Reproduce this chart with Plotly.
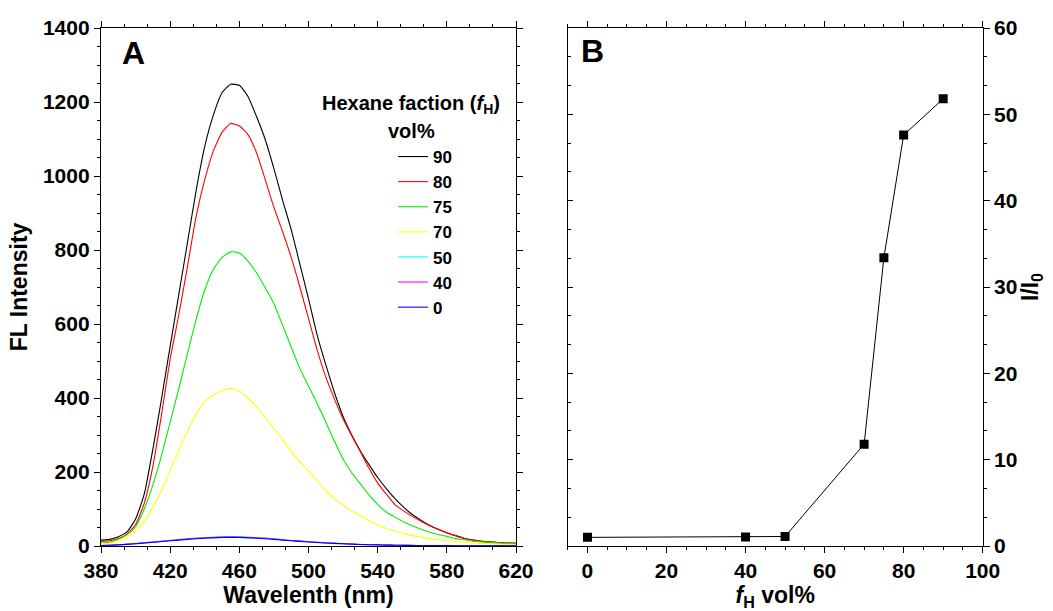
import plotly.graph_objects as go

# ---------------- data ----------------
wavelength = [380, 385, 390, 395, 400, 405, 410, 415, 420, 425, 430, 435, 440, 445,
              450, 455, 460, 465, 470, 475, 480, 485, 490, 495, 500, 505, 510, 515,
              520, 525, 530, 535, 540, 545, 550, 555, 560, 565, 570, 575, 580, 585,
              590, 595, 600, 605, 610, 615, 620]

fl_90 = [16, 18, 25, 38, 73, 140, 262, 398, 540, 680, 820, 960, 1080, 1165,
         1225, 1248, 1245, 1215, 1160, 1098, 1020, 935, 855, 762, 668, 570, 490, 415,
         350, 300, 257, 220, 185, 155, 128, 105, 85, 70, 56, 45, 36, 28,
         21, 16, 13, 11, 9, 8, 7]
fl_80 = [12, 14, 20, 32, 58, 115, 215, 355, 505, 625, 755, 890, 990, 1068,
         1118, 1142, 1135, 1112, 1062, 990, 915, 850, 780, 700, 615, 530, 457, 397,
         343, 298, 255, 210, 170, 140, 112, 95, 80, 67, 55, 45, 36, 28,
         20, 16, 13, 11, 9, 8, 7]
fl_75 = [8, 10, 18, 30, 52, 100, 165, 245, 335, 425, 520, 612, 692, 748,
         780, 795, 792, 770, 738, 698, 655, 597, 538, 480, 432, 385, 335, 283,
         235, 198, 168, 138, 112, 92, 78, 65, 55, 45, 37, 31, 26, 20,
         17, 13, 11, 9, 8, 7, 6]
fl_70 = [5, 8, 15, 25, 40, 65, 105, 150, 205, 258, 310, 355, 390, 408,
         420, 426, 418, 400, 376, 348, 318, 288, 255, 228, 203, 176, 150, 128,
         110, 95, 82, 68, 56, 48, 40, 34, 28, 24, 20, 17, 14, 12,
         10, 8, 7, 6, 5, 4.5, 4]
fl_50 = [1.1, 2.2, 3.3, 5.0, 6.6, 8.8, 11, 13.2, 15.4, 17.6, 19.8, 21.5, 23.1, 24.2,
         25.3, 25.6, 25.3, 24.2, 23.1, 21.5, 19.8, 17.6, 15.4, 13.8, 12.1, 10.5, 8.8, 7.7,
         6.6, 5.5, 4.4, 3.9, 3.3, 2.8, 2.2, 2.0, 1.7, 1.3, 1.1, 1.1, 1.1, 0.9,
         0.6, 0.6, 0.6, 0.4, 0.3, 0.3, 0.3]
fl_40 = [1.05, 2.1, 3.2, 4.7, 6.3, 8.4, 10.5, 12.6, 14.7, 16.8, 18.9, 20.5, 22.0, 23.1,
         24.2, 24.5, 24.2, 23.1, 22.0, 20.5, 18.9, 16.8, 14.7, 13.1, 11.6, 10.0, 8.4, 7.4,
         6.3, 5.3, 4.2, 3.7, 3.2, 2.6, 2.1, 1.9, 1.6, 1.3, 1.05, 1.05, 1.05, 0.8,
         0.5, 0.5, 0.5, 0.4, 0.3, 0.3, 0.3]
fl_0 = [1.0, 2.0, 3.0, 4.5, 6.0, 8.0, 10, 12, 14, 16, 18, 19.5, 21, 22,
        23, 23.3, 23, 22, 21, 19.5, 18, 16, 14, 12.5, 11, 9.5, 8, 7,
        6, 5, 4, 3.5, 3, 2.5, 2, 1.8, 1.5, 1.2, 1.0, 1.0, 1.0, 0.8,
        0.5, 0.5, 0.5, 0.4, 0.3, 0.3, 0.3]

series_names = ["90", "80", "75", "70", "50", "40", "0"]
series_values = [fl_90, fl_80, fl_75, fl_70, fl_50, fl_40, fl_0]
series_colors = ["#000000", "#ff0000", "#00f000", "#ffff00", "#00ffff", "#ff00ff", "#0000ff"]

fH = [0, 40, 50, 70, 75, 80, 90]
ratio = [1.0, 1.05, 1.1, 11.8, 33.4, 47.6, 51.8]

# ---------------- figure ----------------
W, H = 1053, 611
FONT = "Liberation Sans, Arial, sans-serif"

def px_x(p):
    return p / W

def px_y(p):
    return 1 - p / H

fig = go.Figure()

for name, vals, col in zip(series_names, series_values, series_colors):
    fig.add_trace(go.Scatter(
        x=wavelength, y=vals, name=name, mode="lines",
        line=dict(color=col, width=1.1, shape="spline", smoothing=0.5),
        xaxis="x", yaxis="y", showlegend=True))

fig.add_trace(go.Scatter(
    x=fH, y=ratio, mode="lines+markers", showlegend=False,
    line=dict(color="black", width=1),
    marker=dict(symbol="square", size=9, color="black"),
    xaxis="x2", yaxis="y2"))

fig.add_trace(go.Scatter(x=[None], y=[None], xaxis="x2", yaxis="y3",
                         showlegend=False, hoverinfo="skip"))

tickfont = dict(family=FONT, size=21, color="black", weight="bold")
titlefont = dict(family=FONT, size=23, color="black", weight="bold")

ydom = [px_y(546), px_y(28)]
common = dict(showgrid=False, zeroline=False, showline=True, linecolor="black",
              linewidth=1.3, ticks="outside", ticklen=6, tickwidth=1.2,
              tickcolor="black", tickfont=tickfont, automargin=False)

minor_out = dict(ticks="outside", ticklen=3, tickcolor="black", tickwidth=1)

fig.update_layout(
    width=W, height=H,
    margin=dict(l=0, r=0, t=0, b=0, autoexpand=False),
    paper_bgcolor="white", plot_bgcolor="white",
    font=dict(family=FONT, color="black"),
    xaxis=dict(domain=[px_x(101), px_x(516)], range=[380, 620], tick0=380, dtick=40,
               mirror="ticks", anchor="y",
               minor=dict(tick0=380, dtick=40 / 3, **minor_out),
               title=dict(text="Wavelenth (nm)", font=titlefont, standoff=0),
               **common),
    yaxis=dict(domain=ydom, range=[0, 1400], dtick=200, mirror="ticks", anchor="x",
               minor=dict(dtick=50, **minor_out),
               title=dict(text="FL Intensity", font=titlefont, standoff=8),
               **common),
    xaxis2=dict(domain=[px_x(567.7), px_x(982.7)], range=[-5, 100], tick0=0, dtick=20,
                mirror="ticks", anchor="y2",
                minor=dict(tick0=0, dtick=5, **minor_out),
                title=dict(text="<i>f</i><sub>H</sub> vol%", font=titlefont, standoff=0),
                **common),
    yaxis2=dict(domain=ydom, range=[0, 60], dtick=10, side="right", mirror=True,
                anchor="x2",
                minor=dict(tick0=0, dtick=10 / 3, **minor_out),
                title=dict(text="I/I<sub>0</sub>", font=titlefont, standoff=1),
                **common),
    yaxis3=dict(domain=ydom, range=[0, 60], dtick=10, side="left", overlaying="y2",
                anchor="x2", showgrid=False, zeroline=False, showline=False,
                ticks="inside", ticklen=5, tickcolor="black", tickwidth=1.2,
                showticklabels=False, automargin=False,
                minor=dict(tick0=0, dtick=10 / 3, ticks="inside", ticklen=3,
                           tickcolor="black", tickwidth=1)),
    legend=dict(x=px_x(393), y=px_y(139), xanchor="left", yanchor="top",
                bgcolor="rgba(0,0,0,0)", borderwidth=0,
                font=dict(family=FONT, size=17, color="black", weight="bold"),
                traceorder="normal", itemwidth=30),
    annotations=[
        dict(text="A", x=px_x(133), y=px_y(53), xref="paper", yref="paper",
             xanchor="center", yanchor="middle", showarrow=False,
             font=dict(family=FONT, size=32, weight="bold", color="black")),
        dict(text="B", x=px_x(592), y=px_y(51), xref="paper", yref="paper",
             xanchor="center", yanchor="middle", showarrow=False,
             font=dict(family=FONT, size=32, weight="bold", color="black")),
        dict(text="Hexane faction (<i>f</i><sub>H</sub>)", x=px_x(411), y=px_y(104),
             xref="paper", yref="paper", xanchor="center", yanchor="middle",
             showarrow=False,
             font=dict(family=FONT, size=20, weight="bold", color="black")),
        dict(text="vol%", x=px_x(411), y=px_y(131),
             xref="paper", yref="paper", xanchor="center", yanchor="middle",
             showarrow=False,
             font=dict(family=FONT, size=20, weight="bold", color="black")),
    ],
)

fig.write_html("out.html", config={"displayModeBar": False},
               post_script="document.body.style.margin='0';document.documentElement.style.margin='0';")
